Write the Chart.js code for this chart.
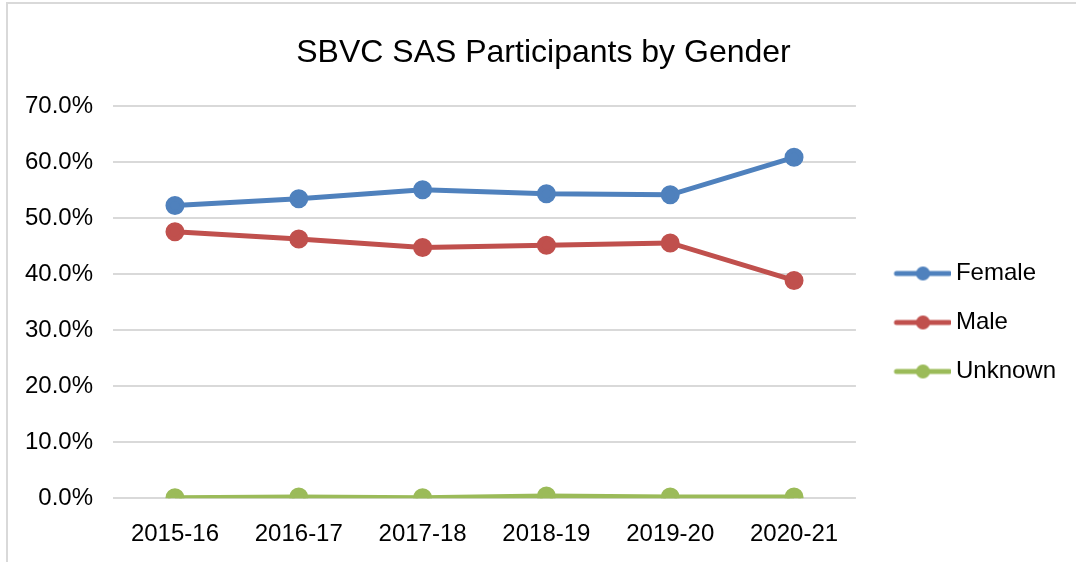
<!DOCTYPE html>
<html>
<head>
<meta charset="utf-8">
<script src="https://cdn.jsdelivr.net/npm/chart.js@4.4.1/dist/chart.umd.min.js"></script>
<style>
  html, body { margin: 0; padding: 0; background: #fff; }
  #wrap { position: relative; width: 1076px; height: 562px; overflow: hidden; }
  #frame { position: absolute; left: 6px; top: 2px; width: 1100px; height: 600px;
           border-left: 2px solid #d9d9d9; border-top: 2px solid #d9d9d9; }
  #chart { position: absolute; left: 0; top: 0; }
</style>
</head>
<body>
<div id="wrap">
  <div id="frame"></div>
  <canvas id="chart" width="1076" height="562"></canvas>
</div>
<script>
const years = ['2015-16', '2016-17', '2017-18', '2018-19', '2019-20', '2020-21'];
const female = [52.3, 53.5, 55.1, 54.4, 54.2, 60.9];
const male = [47.6, 46.3, 44.8, 45.2, 45.6, 38.9];
const unknown = [0.1, 0.2, 0.1, 0.4, 0.2, 0.2];

const fontFamily = '"Liberation Sans", Arial, sans-serif';

// line+dot swatch for the legend; drawn a bit right of the image centre
function swatch(color) {
  const c = document.createElement('canvas');
  c.width = 78;
  c.height = 16;
  const g = c.getContext('2d');
  g.strokeStyle = color;
  g.lineWidth = 5;
  g.lineCap = 'round';
  g.beginPath();
  g.moveTo(23, 8);
  g.lineTo(76, 8);
  g.stroke();
  g.fillStyle = color;
  g.beginPath();
  g.arc(49.5, 8, 7, 0, Math.PI * 2);
  g.fill();
  return c;
}

function series(label, data, color) {
  return {
    label,
    data,
    borderColor: color,
    backgroundColor: color,
    borderWidth: 5,
    pointRadius: 7,
    pointHoverRadius: 7,
    pointBackgroundColor: color,
    pointBorderColor: color,
    tension: 0,
    swatch: swatch(color)
  };
}

// the title sits a little right of the canvas centre in the original
const nudgeTitle = {
  id: 'nudgeTitle',
  afterLayout(chart) {
    if (chart.titleBlock) chart.titleBlock.left += 16;
  }
};

new Chart(document.getElementById('chart'), {
  type: 'line',
  data: {
    labels: years,
    datasets: [
      series('Female', female, '#4f81bd'),
      series('Male', male, '#c0504d'),
      series('Unknown', unknown, '#9bbb59')
    ]
  },
  plugins: [nudgeTitle],
  options: {
    responsive: false,
    animation: false,
    layout: { padding: { left: 5, right: 10, top: 20, bottom: -9 } },
    plugins: {
      title: {
        display: true,
        text: 'SBVC SAS Participants by Gender',
        color: '#000',
        font: { family: fontFamily, size: 32, weight: 'normal' },
        padding: { top: 14, bottom: 34 }
      },
      legend: {
        position: 'right',
        title: { display: true, text: ' ', font: { size: 10 }, padding: { top: 42, bottom: 0 } },
        labels: {
          color: '#000',
          font: { family: fontFamily, size: 24 },
          usePointStyle: true,
          pointStyleWidth: 63,
          padding: 25,
          generateLabels: chart => chart.data.datasets.map((ds, i) => ({
            text: ds.label,
            pointStyle: ds.swatch,
            fillStyle: ds.borderColor,
            strokeStyle: ds.borderColor,
            lineWidth: 0,
            hidden: false,
            datasetIndex: i,
            fontColor: '#000'
          }))
        }
      },
      tooltip: { enabled: false }
    },
    scales: {
      x: {
        offset: true,
        grid: { display: false, drawTicks: false },
        border: { display: false },
        ticks: { color: '#000', font: { family: fontFamily, size: 24 }, padding: 22, maxRotation: 0 }
      },
      y: {
        min: 0,
        max: 70,
        grid: { color: '#d9d9d9', lineWidth: 2, drawTicks: false },
        border: { display: false },
        ticks: {
          stepSize: 10,
          color: '#000',
          font: { family: fontFamily, size: 24 },
          padding: 20,
          callback: v => v.toFixed(1) + '%'
        }
      }
    }
  }
});
</script>
</body>
</html>
